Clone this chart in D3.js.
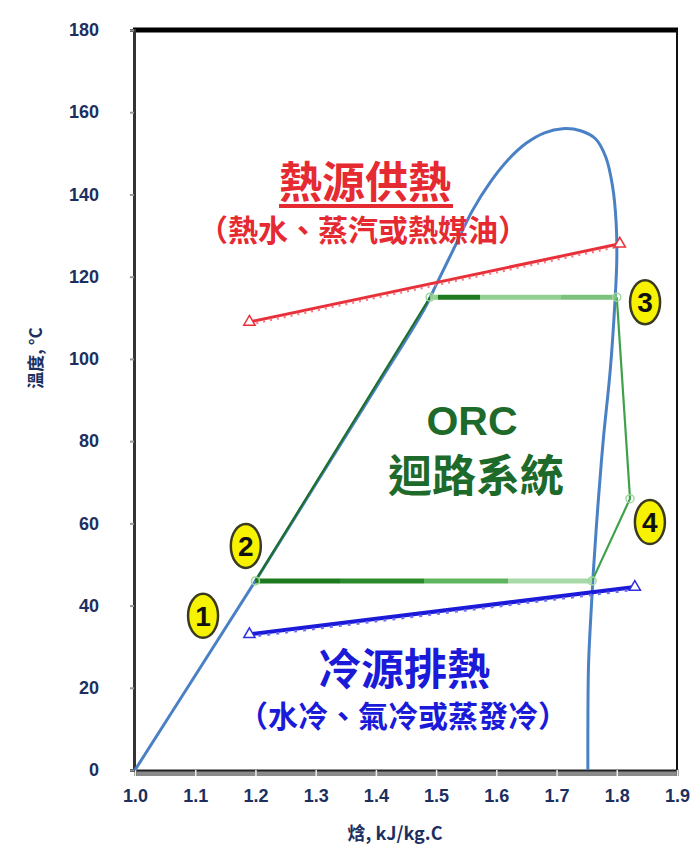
<!DOCTYPE html>
<html>
<head>
<meta charset="utf-8">
<script src="https://cdn.jsdelivr.net/npm/d3@7"></script>
<style>
  html, body { margin: 0; padding: 0; background: #fff; }
  svg { display: block; }
</style>
</head>
<body>
<script>
// Enthalpy axis (kJ/kg.C) and temperature axis (°C)
const hTicks = [1.0, 1.1, 1.2, 1.3, 1.4, 1.5, 1.6, 1.7, 1.8, 1.9];
const tTicks = [0, 20, 40, 60, 80, 100, 120, 140, 160, 180];

// Saturation dome of the working fluid
const domeH = [1.0, 1.1, 1.2, 1.3, 1.4, 1.48, 1.5, 1.53, 1.56, 1.59, 1.62, 1.65, 1.68, 1.71, 1.74, 1.765, 1.782, 1.793, 1.799, 1.80, 1.797, 1.789, 1.778, 1.769, 1.761, 1.756, 1.753, 1.752, 1.752];
const domeT = [0, 23, 46, 69.5, 93, 112, 118, 127, 136, 143, 148.5, 152.5, 155, 156, 155.5, 153.5, 149, 142, 133, 124, 114, 97, 81, 65, 48, 35, 25, 10, 0];

// ORC cycle: pump/preheat, evaporation, expansion, desuperheat, condensation
const cycleH = [1.20, 1.49, 1.80, 1.822, 1.759];
const cycleT = [46, 115, 115, 66, 46];

// Heat source (hot fluid) and heat sink (cooling) lines
const hotH = [1.19, 1.805];
const hotT = [109, 128];
const coldH = [1.19, 1.83];
const coldT = [33, 44.5];

// State point labels
const stateNames = ["1", "2", "3", "4"];
const stateH = [1.113, 1.184, 1.847, 1.855];
const stateT = [37.5, 54.5, 113.8, 60.3];

const W = 692, H = 859;
const x = d3.scaleLinear().domain([1.0, 1.9]).range([135, 677]);
const y = d3.scaleLinear().domain([0, 180]).range([770, 30]);

const svg = d3.select("body").append("svg").attr("width", W).attr("height", H);
const defs = svg.append("defs");

// gradients for the two horizontal (phase change) segments
function hGrad(id, x1, x2, stops) {
  const g = defs.append("linearGradient").attr("id", id)
    .attr("gradientUnits", "userSpaceOnUse")
    .attr("x1", x1).attr("x2", x2).attr("y1", 0).attr("y2", 0);
  stops.forEach(s => g.append("stop").attr("offset", s[0]).attr("stop-color", s[1]));
}
hGrad("condGrad", x(cycleH[0]), x(cycleH[4]), [
  [0, "#1f7a1f"], [0.25, "#1f7a1f"], [0.25, "#2b8a2b"], [0.5, "#2b8a2b"],
  [0.5, "#5fb45f"], [0.75, "#5fb45f"], [0.75, "#a9d9a9"], [1, "#a9d9a9"]]);
hGrad("evapGrad", x(cycleH[1]), x(cycleH[2]), [
  [0, "#8fcf8f"], [0.04, "#8fcf8f"], [0.04, "#1f7a1f"], [0.27, "#1f7a1f"],
  [0.27, "#92d092"], [0.7, "#92d092"], [0.7, "#7cc27c"], [1, "#7cc27c"]]);

const line = d3.line().x(d => x(d[0])).y(d => y(d[1]));

// Frame
svg.append("line").attr("x1", x(1.0) - 2).attr("x2", x(1.9) + 1).attr("y1", y(180)).attr("y2", y(180))
  .attr("stroke", "#000").attr("stroke-width", 5);
svg.append("line").attr("x1", x(1.9)).attr("x2", x(1.9)).attr("y1", y(180)).attr("y2", y(0))
  .attr("stroke", "#111").attr("stroke-width", 2);

// Y axis
const yAxis = svg.append("g").attr("transform", `translate(${x(1.0) - 1},0)`)
  .call(d3.axisLeft(y).tickValues(tTicks).tickFormat(d3.format("d")).tickSize(4).tickPadding(31));
yAxis.select(".domain").attr("stroke", "#333").attr("stroke-width", 3);
yAxis.selectAll(".tick line").attr("stroke", "#999").attr("stroke-width", 2);
yAxis.selectAll(".tick text").attr("fill", "#1c2f5e")
  .style("font-family", "'Liberation Sans', Arial, sans-serif").style("font-size", "18px").style("font-weight", "bold");

// X axis
svg.append("rect").attr("x", x(1.0)).attr("y", y(0) + 1).attr("width", x(1.9) - x(1.0)).attr("height", 5)
  .attr("fill", "#8a8a8a");
const xAxis = svg.append("g").attr("transform", `translate(0,${y(0)})`)
  .call(d3.axisBottom(x).tickValues(hTicks).tickFormat(d3.format(".1f")).tickSize(6).tickPadding(13));
xAxis.select(".domain").attr("stroke", "#222").attr("stroke-width", 2);
xAxis.selectAll(".tick line").attr("stroke", "#eee").attr("stroke-width", 1.5);
xAxis.selectAll(".tick text").attr("fill", "#1c2f5e")
  .style("font-family", "'Liberation Sans', Arial, sans-serif").style("font-size", "18px").style("font-weight", "bold");

// Axis titles
svg.append("text").attr("x", 395).attr("y", 840).attr("text-anchor", "middle")
  .attr("fill", "#1c2f5e").style("font-family", "'Noto Sans CJK TC', 'Liberation Sans', sans-serif")
  .style("font-size", "18px").style("font-weight", "bold").text("焓, kJ/kg.C");
svg.append("text").attr("transform", "translate(42,358) rotate(-90)").attr("text-anchor", "middle")
  .attr("fill", "#1c2f5e").style("font-family", "'Noto Sans CJK TC', 'Liberation Sans', sans-serif")
  .style("font-size", "17px").style("font-weight", "bold").text("溫度, °C");

// Saturation dome
svg.append("path").datum(d3.zip(domeH, domeT))
  .attr("d", d3.line().curve(d3.curveCatmullRom.alpha(0.5)).x(d => x(d[0])).y(d => y(d[1])))
  .attr("fill", "none").attr("stroke", "#4a80c4").attr("stroke-width", 3);

// Heat source line
const hot = d3.zip(hotH, hotT);
svg.append("path").datum(hot).attr("d", line).attr("fill", "none").attr("stroke", "#e8303a").attr("stroke-width", 3);
svg.append("path").datum(hot).attr("d", line).attr("transform", "translate(0,2.5)").attr("fill", "none")
  .attr("stroke", "#f07a80").attr("stroke-width", 2.5).attr("stroke-dasharray", "2,5");

// Heat sink line
const cold = d3.zip(coldH, coldT);
svg.append("path").datum(cold).attr("d", line).attr("fill", "none").attr("stroke", "#1a1ad8").attr("stroke-width", 4);
svg.append("path").datum(cold).attr("d", line).attr("transform", "translate(0,2.5)").attr("fill", "none")
  .attr("stroke", "#7070f0").attr("stroke-width", 2.5).attr("stroke-dasharray", "3,6");

// Line end markers (open triangles)
const tri = d3.symbol().type(d3.symbolTriangle).size(55);
function endMarks(hs, ts, color) {
  svg.selectAll(null).data(d3.zip(hs, ts)).join("path")
    .attr("d", tri).attr("transform", d => `translate(${x(d[0])},${y(d[1])})`)
    .attr("fill", "#fff").attr("stroke", color).attr("stroke-width", 1.5);
}
endMarks(hotH, hotT, "#e8303a");
endMarks(coldH, coldT, "#3030e0");

// ORC cycle
const cyc = d3.zip(cycleH, cycleT);
svg.append("path").datum([cyc[0], cyc[1]]).attr("d", line).attr("fill", "none").attr("stroke", "#1d6f2a").attr("stroke-width", 2.2);
svg.append("path").datum([cyc[2], cyc[3], cyc[4]]).attr("d", line).attr("fill", "none").attr("stroke", "#3fa24a").attr("stroke-width", 2.2);
svg.append("line").attr("x1", x(cycleH[1])).attr("x2", x(cycleH[2])).attr("y1", y(cycleT[1])).attr("y2", y(cycleT[2]) + 0.01)
  .attr("stroke", "url(#evapGrad)").attr("stroke-width", 5);
svg.append("line").attr("x1", x(cycleH[0])).attr("x2", x(cycleH[4])).attr("y1", y(cycleT[0])).attr("y2", y(cycleT[4]) + 0.01)
  .attr("stroke", "url(#condGrad)").attr("stroke-width", 5);
svg.selectAll(null).data(cyc).join("circle")
  .attr("cx", d => x(d[0])).attr("cy", d => y(d[1])).attr("r", 4)
  .attr("fill", "none").attr("stroke", "#9fd89f").attr("stroke-width", 1.5);

// Region annotations
const cjk = "'Noto Sans CJK TC', 'Noto Sans CJK SC', sans-serif";
svg.append("text").attr("x", 365).attr("y", 198).attr("text-anchor", "middle")
  .attr("fill", "#e62a32").style("font-family", cjk).style("font-size", "43px").style("font-weight", "bold")
  .text("熱源供熱");
svg.append("rect").attr("x", 279).attr("y", 204).attr("width", 174).attr("height", 4).attr("fill", "#e62a32");
svg.append("text").attr("x", 363).attr("y", 241).attr("text-anchor", "middle")
  .attr("fill", "#e62a32").style("font-family", cjk).style("font-size", "30px").style("font-weight", "bold")
  .text("（熱水、蒸汽或熱媒油）");

svg.append("text").attr("x", 472).attr("y", 435).attr("text-anchor", "middle")
  .attr("fill", "#1d6a2a").style("font-family", "'Liberation Sans', Arial, sans-serif").style("font-size", "41px").style("font-weight", "bold")
  .text("ORC");
svg.append("text").attr("x", 476).attr("y", 492).attr("text-anchor", "middle")
  .attr("fill", "#1d6a2a").style("font-family", cjk).style("font-size", "44px").style("font-weight", "bold")
  .text("迴路系統");

svg.append("text").attr("x", 404).attr("y", 685).attr("text-anchor", "middle")
  .attr("fill", "#1a1ad8").style("font-family", cjk).style("font-size", "43px").style("font-weight", "bold")
  .text("冷源排熱");
svg.append("text").attr("x", 403).attr("y", 727).attr("text-anchor", "middle")
  .attr("fill", "#1a1ad8").style("font-family", cjk).style("font-size", "30px").style("font-weight", "bold")
  .text("（水冷、氣冷或蒸發冷）");

// State point badges
const badges = svg.selectAll(null).data(d3.zip(stateNames, stateH, stateT)).join("g")
  .attr("transform", d => `translate(${x(d[1])},${y(d[2])})`);
badges.append("ellipse").attr("rx", 15).attr("ry", 22)
  .attr("fill", "#f7f200").attr("stroke", "#3a3a20").attr("stroke-width", 2.5);
badges.append("text").attr("text-anchor", "middle").attr("dy", "0.36em")
  .style("font-family", "'Liberation Sans', Arial, sans-serif").style("font-size", "28px").style("font-weight", "bold")
  .attr("fill", "#111").text(d => d[0]);
</script>
</body>
</html>
